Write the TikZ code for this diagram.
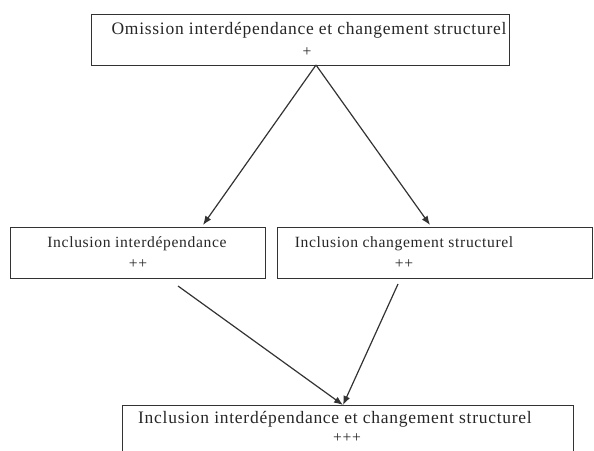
\documentclass[tikz,border=0pt]{standalone}
\usepackage{fontspec}
\setmainfont{Liberation Serif}
\newfontfamily\widefont[LetterSpace=4.2]{Liberation Serif}
\usetikzlibrary{arrows.meta}
\begin{document}
\begin{tikzpicture}[x=1pt,y=-1pt,
  box/.style={draw=black!80,line width=1.2pt,fill=none},
  lbl/.style={font=\widefont\fontsize{17.5}{20}\selectfont,text=black!85,inner sep=0pt},
  slbl/.style={font=\widefont\fontsize{15.6}{18}\selectfont,text=black!85,inner sep=0pt},
  arr/.style={draw=black!80,line width=1.2pt,-{Latex[length=9pt,width=7pt]}}]
\useasboundingbox (0,0) rectangle (594,450);
% boxes
\node[box,minimum width=418pt,minimum height=51pt,anchor=north west] (top) at (91,14) {};
\node[box,minimum width=255pt,minimum height=51pt,anchor=north west] (left) at (10,227) {};
\node[box,minimum width=315pt,minimum height=51pt,anchor=north west] (right) at (277,227) {};
\node[box,minimum width=451pt,minimum height=60pt,anchor=north west] (bot) at (122,405) {};
% texts
\node[lbl] (t1) at (309,30) {Omission interdépendance et changement structurel};
\node[slbl] (t2) at (307,52) {+};
\node[slbl] (l1) at (137,244) {Inclusion interdépendance};
\node[slbl] (l2) at (138,264) {++};
\node[slbl] (r1) at (404,244) {Inclusion changement structurel};
\node[slbl] (r2) at (404,264) {++};
\node[lbl] (b1) at (335,419) {Inclusion interdépendance et changement structurel};
\node[slbl] (b2) at (347,438) {+++};
% connector ends
\coordinate (apex) at (316,65);
\coordinate (lin) at (203,225);
\coordinate (rin) at (430,225);
\coordinate (lout) at (178,286);
\coordinate (rout) at (398,284);
\coordinate (bin) at (343,405);
\draw[arr] (apex) -- (lin);
\draw[arr] (apex) -- (rin);
\draw[arr] (lout) -- (bin);
\draw[arr] (rout) -- (bin);
\end{tikzpicture}
\end{document}
